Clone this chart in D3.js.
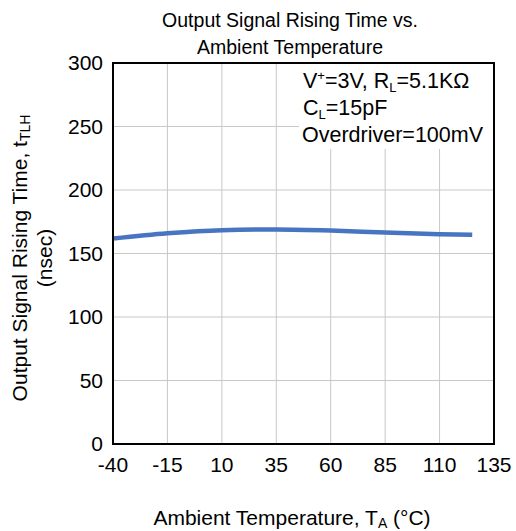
<!DOCTYPE html>
<html>
<head>
<meta charset="utf-8">
<script src="https://cdn.jsdelivr.net/npm/d3@7/dist/d3.min.js"></script>
<style>
    body { margin: 0; background: #fff; }
    svg { font-family: "Liberation Sans", Arial, sans-serif; }
</style>
</head>
<body>
<svg width="516" height="531"></svg>
<script>
// data
const temps = [-40, -15, 10, 35, 60, 85, 110, 125];
const riseTime = [161.8, 166, 168.4, 168.9, 168.1, 166.5, 165.2, 164.7];
const xTicks = [-40, -15, 10, 35, 60, 85, 110, 135];
const yTicks = [0, 50, 100, 150, 200, 250, 300];

const svg = d3.select("svg");
const margin = { top: 63, right: 22, bottom: 87, left: 113 };
const width = 516 - margin.left - margin.right;
const height = 531 - margin.top - margin.bottom;

const x = d3.scaleLinear().domain([-40, 135]).range([0, width]);
const y = d3.scaleLinear().domain([0, 300]).range([height, 0]);

const g = svg.append("g")
    .attr("transform", `translate(${margin.left},${margin.top})`);

// grid
g.append("g")
    .selectAll("line")
    .data(xTicks.slice(1, -1))
    .join("line")
    .attr("x1", d => x(d)).attr("x2", d => x(d))
    .attr("y1", 0).attr("y2", height)
    .attr("stroke", "#c8c8c8")
    .attr("stroke-width", 1);

g.append("g")
    .selectAll("line")
    .data(yTicks.slice(1, -1))
    .join("line")
    .attr("x1", 0).attr("x2", width)
    .attr("y1", d => y(d)).attr("y2", d => y(d))
    .attr("stroke", "#c8c8c8")
    .attr("stroke-width", 1);

// annotation box
g.append("rect")
    .attr("x", 186).attr("y", 1)
    .attr("width", width - 187).attr("height", 85)
    .attr("fill", "#fff");

const notes = g.append("g")
    .attr("font-size", 21.5)
    .attr("fill", "#000");

const t1 = notes.append("text").attr("x", 190).attr("y", 25);
t1.append("tspan").text("V");
t1.append("tspan").attr("font-size", 13).attr("dy", -8).text("+");
t1.append("tspan").attr("dy", 8).text("=3V, R");
t1.append("tspan").attr("font-size", 13).attr("dy", 4).text("L");
t1.append("tspan").attr("dy", -4).text("=5.1KΩ");

const t2 = notes.append("text").attr("x", 190).attr("y", 52);
t2.append("tspan").text("C");
t2.append("tspan").attr("font-size", 13).attr("dy", 4).text("L");
t2.append("tspan").attr("dy", -4).text("=15pF");

notes.append("text").attr("x", 189).attr("y", 79).text("Overdriver=100mV");

// series
const line = d3.line()
    .x((d, i) => x(temps[i]))
    .y(d => y(d))
    .curve(d3.curveMonotoneX);

g.append("path")
    .datum(riseTime)
    .attr("d", line)
    .attr("fill", "none")
    .attr("stroke", "#4775c2")
    .attr("stroke-width", 4.5);

// frame
g.append("rect")
    .attr("width", width).attr("height", height)
    .attr("fill", "none")
    .attr("stroke", "#000")
    .attr("stroke-width", 2);

// tick labels
g.append("g")
    .selectAll("text")
    .data(xTicks)
    .join("text")
    .attr("x", d => x(d))
    .attr("y", height + 28)
    .attr("text-anchor", "middle")
    .attr("font-size", 21)
    .text(d => d);

g.append("g")
    .selectAll("text")
    .data(yTicks)
    .join("text")
    .attr("x", -10)
    .attr("y", d => y(d))
    .attr("dy", "0.35em")
    .attr("text-anchor", "end")
    .attr("font-size", 21)
    .text(d => d);

// titles
svg.append("text")
    .attr("x", 290).attr("y", 27)
    .attr("text-anchor", "middle")
    .attr("font-size", 19.5)
    .text("Output Signal Rising Time vs.");

svg.append("text")
    .attr("x", 290).attr("y", 54)
    .attr("text-anchor", "middle")
    .attr("font-size", 19.5)
    .text("Ambient Temperature");

const xl = svg.append("text")
    .attr("x", 292).attr("y", 525)
    .attr("text-anchor", "middle")
    .attr("font-size", 21);
xl.append("tspan").text("Ambient Temperature, T");
xl.append("tspan").attr("font-size", 14).attr("dy", 3).text("A");
xl.append("tspan").attr("dy", -3).text(" (°C)");

const yl = svg.append("text")
    .attr("transform", "translate(27,258) rotate(-90)")
    .attr("text-anchor", "middle")
    .attr("font-size", 21);
yl.append("tspan").text("Output Signal Rising Time, t");
yl.append("tspan").attr("font-size", 14).attr("dy", 3).text("TLH");

svg.append("text")
    .attr("transform", "translate(52,258) rotate(-90)")
    .attr("text-anchor", "middle")
    .attr("font-size", 21)
    .text("(nsec)");
</script>
</body>
</html>
